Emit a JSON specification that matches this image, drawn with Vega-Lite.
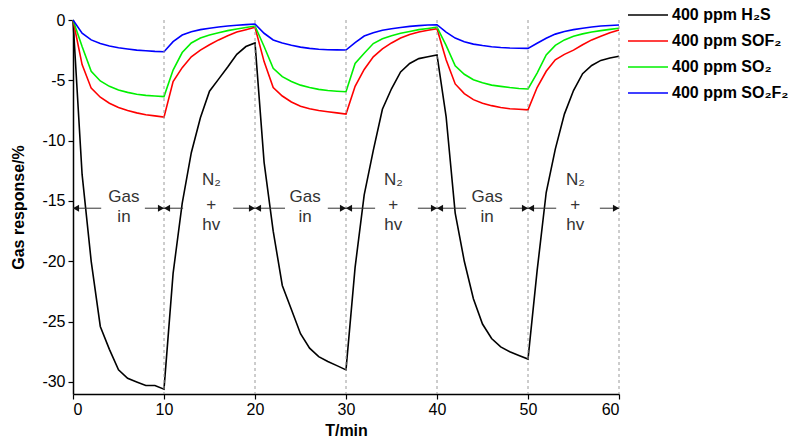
{
  "$schema": "https://vega.github.io/schema/vega-lite/v6.json",
  "width": 546,
  "height": 374,
  "autosize": {"type": "none"},
  "padding": {"left": 73, "top": 20, "right": 173, "bottom": 48},
  "background": "white",
  "config": {
    "view": {"stroke": null},
    "font": "Liberation Sans",
    "axis": {
      "domainColor": "black",
      "domainWidth": 1.5,
      "tickColor": "black",
      "tickWidth": 1.2,
      "tickSize": 5,
      "labelColor": "black",
      "labelFont": "Liberation Sans",
      "labelFontSize": 16,
      "titleColor": "black",
      "titleFont": "Liberation Sans",
      "titleFontSize": 16,
      "titleFontWeight": "bold",
      "grid": false
    }
  },
  "datasets": {
    "curves": [
      {"gas": "400 ppm H₂S", "t": 0, "v": 0}, {"gas": "400 ppm H₂S", "t": 1, "v": -12.8}, {"gas": "400 ppm H₂S", "t": 2, "v": -20.0}, {"gas": "400 ppm H₂S", "t": 3, "v": -25.4}, {"gas": "400 ppm H₂S", "t": 4, "v": -27.3}, {"gas": "400 ppm H₂S", "t": 5, "v": -29.0}, {"gas": "400 ppm H₂S", "t": 6, "v": -29.7}, {"gas": "400 ppm H₂S", "t": 7, "v": -30.0}, {"gas": "400 ppm H₂S", "t": 8, "v": -30.3}, {"gas": "400 ppm H₂S", "t": 9, "v": -30.3}, {"gas": "400 ppm H₂S", "t": 10, "v": -30.6},
      {"gas": "400 ppm H₂S", "t": 11, "v": -21.0}, {"gas": "400 ppm H₂S", "t": 12, "v": -15.2}, {"gas": "400 ppm H₂S", "t": 13, "v": -11.0}, {"gas": "400 ppm H₂S", "t": 14, "v": -8.1}, {"gas": "400 ppm H₂S", "t": 15, "v": -5.9}, {"gas": "400 ppm H₂S", "t": 16, "v": -4.9}, {"gas": "400 ppm H₂S", "t": 17, "v": -3.9}, {"gas": "400 ppm H₂S", "t": 18, "v": -2.85}, {"gas": "400 ppm H₂S", "t": 19, "v": -2.2}, {"gas": "400 ppm H₂S", "t": 20, "v": -1.9},
      {"gas": "400 ppm H₂S", "t": 21, "v": -11.8}, {"gas": "400 ppm H₂S", "t": 22, "v": -17.5}, {"gas": "400 ppm H₂S", "t": 23, "v": -22.0}, {"gas": "400 ppm H₂S", "t": 24, "v": -24.0}, {"gas": "400 ppm H₂S", "t": 25, "v": -26.0}, {"gas": "400 ppm H₂S", "t": 26, "v": -27.2}, {"gas": "400 ppm H₂S", "t": 27, "v": -27.9}, {"gas": "400 ppm H₂S", "t": 28, "v": -28.3}, {"gas": "400 ppm H₂S", "t": 29, "v": -28.65}, {"gas": "400 ppm H₂S", "t": 30, "v": -29.0},
      {"gas": "400 ppm H₂S", "t": 31, "v": -20.5}, {"gas": "400 ppm H₂S", "t": 32, "v": -14.5}, {"gas": "400 ppm H₂S", "t": 33, "v": -10.8}, {"gas": "400 ppm H₂S", "t": 34, "v": -7.4}, {"gas": "400 ppm H₂S", "t": 35, "v": -5.7}, {"gas": "400 ppm H₂S", "t": 36, "v": -4.3}, {"gas": "400 ppm H₂S", "t": 37, "v": -3.6}, {"gas": "400 ppm H₂S", "t": 38, "v": -3.2}, {"gas": "400 ppm H₂S", "t": 39, "v": -3.05}, {"gas": "400 ppm H₂S", "t": 40, "v": -2.9},
      {"gas": "400 ppm H₂S", "t": 41, "v": -8.0}, {"gas": "400 ppm H₂S", "t": 42, "v": -16.0}, {"gas": "400 ppm H₂S", "t": 43, "v": -20.0}, {"gas": "400 ppm H₂S", "t": 44, "v": -23.1}, {"gas": "400 ppm H₂S", "t": 45, "v": -25.2}, {"gas": "400 ppm H₂S", "t": 46, "v": -26.4}, {"gas": "400 ppm H₂S", "t": 47, "v": -27.1}, {"gas": "400 ppm H₂S", "t": 48, "v": -27.5}, {"gas": "400 ppm H₂S", "t": 49, "v": -27.8}, {"gas": "400 ppm H₂S", "t": 50, "v": -28.1},
      {"gas": "400 ppm H₂S", "t": 51, "v": -20.8}, {"gas": "400 ppm H₂S", "t": 52, "v": -14.3}, {"gas": "400 ppm H₂S", "t": 53, "v": -10.7}, {"gas": "400 ppm H₂S", "t": 54, "v": -7.8}, {"gas": "400 ppm H₂S", "t": 55, "v": -5.85}, {"gas": "400 ppm H₂S", "t": 56, "v": -4.45}, {"gas": "400 ppm H₂S", "t": 57, "v": -3.77}, {"gas": "400 ppm H₂S", "t": 58, "v": -3.35}, {"gas": "400 ppm H₂S", "t": 59, "v": -3.15}, {"gas": "400 ppm H₂S", "t": 60, "v": -3.0},

      {"gas": "400 ppm SOF₂", "t": 0, "v": 0}, {"gas": "400 ppm SOF₂", "t": 1, "v": -3.7}, {"gas": "400 ppm SOF₂", "t": 2, "v": -5.65}, {"gas": "400 ppm SOF₂", "t": 3, "v": -6.4}, {"gas": "400 ppm SOF₂", "t": 4, "v": -6.9}, {"gas": "400 ppm SOF₂", "t": 5, "v": -7.25}, {"gas": "400 ppm SOF₂", "t": 6, "v": -7.5}, {"gas": "400 ppm SOF₂", "t": 7, "v": -7.7}, {"gas": "400 ppm SOF₂", "t": 8, "v": -7.85}, {"gas": "400 ppm SOF₂", "t": 9, "v": -7.95}, {"gas": "400 ppm SOF₂", "t": 10, "v": -8.05},
      {"gas": "400 ppm SOF₂", "t": 11, "v": -5.1}, {"gas": "400 ppm SOF₂", "t": 12, "v": -3.95}, {"gas": "400 ppm SOF₂", "t": 13, "v": -3.05}, {"gas": "400 ppm SOF₂", "t": 14, "v": -2.5}, {"gas": "400 ppm SOF₂", "t": 15, "v": -2.05}, {"gas": "400 ppm SOF₂", "t": 16, "v": -1.65}, {"gas": "400 ppm SOF₂", "t": 17, "v": -1.3}, {"gas": "400 ppm SOF₂", "t": 18, "v": -1.0}, {"gas": "400 ppm SOF₂", "t": 19, "v": -0.8}, {"gas": "400 ppm SOF₂", "t": 20, "v": -0.6},
      {"gas": "400 ppm SOF₂", "t": 21, "v": -3.45}, {"gas": "400 ppm SOF₂", "t": 22, "v": -5.6}, {"gas": "400 ppm SOF₂", "t": 23, "v": -6.3}, {"gas": "400 ppm SOF₂", "t": 24, "v": -6.8}, {"gas": "400 ppm SOF₂", "t": 25, "v": -7.15}, {"gas": "400 ppm SOF₂", "t": 26, "v": -7.35}, {"gas": "400 ppm SOF₂", "t": 27, "v": -7.5}, {"gas": "400 ppm SOF₂", "t": 28, "v": -7.6}, {"gas": "400 ppm SOF₂", "t": 29, "v": -7.7}, {"gas": "400 ppm SOF₂", "t": 30, "v": -7.8},
      {"gas": "400 ppm SOF₂", "t": 31, "v": -5.5}, {"gas": "400 ppm SOF₂", "t": 32, "v": -4.1}, {"gas": "400 ppm SOF₂", "t": 33, "v": -3.05}, {"gas": "400 ppm SOF₂", "t": 34, "v": -2.4}, {"gas": "400 ppm SOF₂", "t": 35, "v": -1.9}, {"gas": "400 ppm SOF₂", "t": 36, "v": -1.5}, {"gas": "400 ppm SOF₂", "t": 37, "v": -1.2}, {"gas": "400 ppm SOF₂", "t": 38, "v": -1.0}, {"gas": "400 ppm SOF₂", "t": 39, "v": -0.85}, {"gas": "400 ppm SOF₂", "t": 40, "v": -0.72},
      {"gas": "400 ppm SOF₂", "t": 41, "v": -3.3}, {"gas": "400 ppm SOF₂", "t": 42, "v": -5.3}, {"gas": "400 ppm SOF₂", "t": 43, "v": -6.1}, {"gas": "400 ppm SOF₂", "t": 44, "v": -6.6}, {"gas": "400 ppm SOF₂", "t": 45, "v": -6.9}, {"gas": "400 ppm SOF₂", "t": 46, "v": -7.1}, {"gas": "400 ppm SOF₂", "t": 47, "v": -7.25}, {"gas": "400 ppm SOF₂", "t": 48, "v": -7.35}, {"gas": "400 ppm SOF₂", "t": 49, "v": -7.4}, {"gas": "400 ppm SOF₂", "t": 50, "v": -7.45},
      {"gas": "400 ppm SOF₂", "t": 51, "v": -5.6}, {"gas": "400 ppm SOF₂", "t": 52, "v": -4.25}, {"gas": "400 ppm SOF₂", "t": 53, "v": -3.3}, {"gas": "400 ppm SOF₂", "t": 54, "v": -2.85}, {"gas": "400 ppm SOF₂", "t": 55, "v": -2.5}, {"gas": "400 ppm SOF₂", "t": 56, "v": -2.05}, {"gas": "400 ppm SOF₂", "t": 57, "v": -1.65}, {"gas": "400 ppm SOF₂", "t": 58, "v": -1.35}, {"gas": "400 ppm SOF₂", "t": 59, "v": -1.05}, {"gas": "400 ppm SOF₂", "t": 60, "v": -0.83},

      {"gas": "400 ppm SO₂", "t": 0, "v": 0}, {"gas": "400 ppm SO₂", "t": 1, "v": -2.2}, {"gas": "400 ppm SO₂", "t": 2, "v": -4.25}, {"gas": "400 ppm SO₂", "t": 3, "v": -5.05}, {"gas": "400 ppm SO₂", "t": 4, "v": -5.5}, {"gas": "400 ppm SO₂", "t": 5, "v": -5.8}, {"gas": "400 ppm SO₂", "t": 6, "v": -6.0}, {"gas": "400 ppm SO₂", "t": 7, "v": -6.15}, {"gas": "400 ppm SO₂", "t": 8, "v": -6.25}, {"gas": "400 ppm SO₂", "t": 9, "v": -6.3}, {"gas": "400 ppm SO₂", "t": 10, "v": -6.35},
      {"gas": "400 ppm SO₂", "t": 11, "v": -4.15}, {"gas": "400 ppm SO₂", "t": 12, "v": -2.7}, {"gas": "400 ppm SO₂", "t": 13, "v": -1.9}, {"gas": "400 ppm SO₂", "t": 14, "v": -1.5}, {"gas": "400 ppm SO₂", "t": 15, "v": -1.25}, {"gas": "400 ppm SO₂", "t": 16, "v": -1.05}, {"gas": "400 ppm SO₂", "t": 17, "v": -0.88}, {"gas": "400 ppm SO₂", "t": 18, "v": -0.74}, {"gas": "400 ppm SO₂", "t": 19, "v": -0.62}, {"gas": "400 ppm SO₂", "t": 20, "v": -0.5},
      {"gas": "400 ppm SO₂", "t": 21, "v": -2.2}, {"gas": "400 ppm SO₂", "t": 22, "v": -4.0}, {"gas": "400 ppm SO₂", "t": 23, "v": -4.7}, {"gas": "400 ppm SO₂", "t": 24, "v": -5.1}, {"gas": "400 ppm SO₂", "t": 25, "v": -5.4}, {"gas": "400 ppm SO₂", "t": 26, "v": -5.6}, {"gas": "400 ppm SO₂", "t": 27, "v": -5.75}, {"gas": "400 ppm SO₂", "t": 28, "v": -5.85}, {"gas": "400 ppm SO₂", "t": 29, "v": -5.9}, {"gas": "400 ppm SO₂", "t": 30, "v": -5.95},
      {"gas": "400 ppm SO₂", "t": 31, "v": -3.6}, {"gas": "400 ppm SO₂", "t": 32, "v": -2.75}, {"gas": "400 ppm SO₂", "t": 33, "v": -1.95}, {"gas": "400 ppm SO₂", "t": 34, "v": -1.55}, {"gas": "400 ppm SO₂", "t": 35, "v": -1.3}, {"gas": "400 ppm SO₂", "t": 36, "v": -1.1}, {"gas": "400 ppm SO₂", "t": 37, "v": -0.95}, {"gas": "400 ppm SO₂", "t": 38, "v": -0.8}, {"gas": "400 ppm SO₂", "t": 39, "v": -0.7}, {"gas": "400 ppm SO₂", "t": 40, "v": -0.6},
      {"gas": "400 ppm SO₂", "t": 41, "v": -2.1}, {"gas": "400 ppm SO₂", "t": 42, "v": -3.8}, {"gas": "400 ppm SO₂", "t": 43, "v": -4.5}, {"gas": "400 ppm SO₂", "t": 44, "v": -4.95}, {"gas": "400 ppm SO₂", "t": 45, "v": -5.2}, {"gas": "400 ppm SO₂", "t": 46, "v": -5.4}, {"gas": "400 ppm SO₂", "t": 47, "v": -5.5}, {"gas": "400 ppm SO₂", "t": 48, "v": -5.6}, {"gas": "400 ppm SO₂", "t": 49, "v": -5.68}, {"gas": "400 ppm SO₂", "t": 50, "v": -5.72},
      {"gas": "400 ppm SO₂", "t": 51, "v": -4.4}, {"gas": "400 ppm SO₂", "t": 52, "v": -2.9}, {"gas": "400 ppm SO₂", "t": 53, "v": -2.1}, {"gas": "400 ppm SO₂", "t": 54, "v": -1.65}, {"gas": "400 ppm SO₂", "t": 55, "v": -1.35}, {"gas": "400 ppm SO₂", "t": 56, "v": -1.15}, {"gas": "400 ppm SO₂", "t": 57, "v": -1.0}, {"gas": "400 ppm SO₂", "t": 58, "v": -0.88}, {"gas": "400 ppm SO₂", "t": 59, "v": -0.78}, {"gas": "400 ppm SO₂", "t": 60, "v": -0.69},

      {"gas": "400 ppm SO₂F₂", "t": 0, "v": 0}, {"gas": "400 ppm SO₂F₂", "t": 1, "v": -1.1}, {"gas": "400 ppm SO₂F₂", "t": 2, "v": -1.65}, {"gas": "400 ppm SO₂F₂", "t": 3, "v": -1.95}, {"gas": "400 ppm SO₂F₂", "t": 4, "v": -2.15}, {"gas": "400 ppm SO₂F₂", "t": 5, "v": -2.3}, {"gas": "400 ppm SO₂F₂", "t": 6, "v": -2.4}, {"gas": "400 ppm SO₂F₂", "t": 7, "v": -2.5}, {"gas": "400 ppm SO₂F₂", "t": 8, "v": -2.55}, {"gas": "400 ppm SO₂F₂", "t": 9, "v": -2.6}, {"gas": "400 ppm SO₂F₂", "t": 10, "v": -2.63},
      {"gas": "400 ppm SO₂F₂", "t": 11, "v": -1.8}, {"gas": "400 ppm SO₂F₂", "t": 12, "v": -1.25}, {"gas": "400 ppm SO₂F₂", "t": 13, "v": -0.97}, {"gas": "400 ppm SO₂F₂", "t": 14, "v": -0.8}, {"gas": "400 ppm SO₂F₂", "t": 15, "v": -0.68}, {"gas": "400 ppm SO₂F₂", "t": 16, "v": -0.58}, {"gas": "400 ppm SO₂F₂", "t": 17, "v": -0.5}, {"gas": "400 ppm SO₂F₂", "t": 18, "v": -0.43}, {"gas": "400 ppm SO₂F₂", "t": 19, "v": -0.38}, {"gas": "400 ppm SO₂F₂", "t": 20, "v": -0.33},
      {"gas": "400 ppm SO₂F₂", "t": 21, "v": -1.1}, {"gas": "400 ppm SO₂F₂", "t": 22, "v": -1.65}, {"gas": "400 ppm SO₂F₂", "t": 23, "v": -1.9}, {"gas": "400 ppm SO₂F₂", "t": 24, "v": -2.1}, {"gas": "400 ppm SO₂F₂", "t": 25, "v": -2.25}, {"gas": "400 ppm SO₂F₂", "t": 26, "v": -2.35}, {"gas": "400 ppm SO₂F₂", "t": 27, "v": -2.42}, {"gas": "400 ppm SO₂F₂", "t": 28, "v": -2.46}, {"gas": "400 ppm SO₂F₂", "t": 29, "v": -2.48}, {"gas": "400 ppm SO₂F₂", "t": 30, "v": -2.49},
      {"gas": "400 ppm SO₂F₂", "t": 31, "v": -1.88}, {"gas": "400 ppm SO₂F₂", "t": 32, "v": -1.33}, {"gas": "400 ppm SO₂F₂", "t": 33, "v": -1.05}, {"gas": "400 ppm SO₂F₂", "t": 34, "v": -0.85}, {"gas": "400 ppm SO₂F₂", "t": 35, "v": -0.72}, {"gas": "400 ppm SO₂F₂", "t": 36, "v": -0.62}, {"gas": "400 ppm SO₂F₂", "t": 37, "v": -0.53}, {"gas": "400 ppm SO₂F₂", "t": 38, "v": -0.47}, {"gas": "400 ppm SO₂F₂", "t": 39, "v": -0.42}, {"gas": "400 ppm SO₂F₂", "t": 40, "v": -0.39},
      {"gas": "400 ppm SO₂F₂", "t": 41, "v": -1.0}, {"gas": "400 ppm SO₂F₂", "t": 42, "v": -1.5}, {"gas": "400 ppm SO₂F₂", "t": 43, "v": -1.8}, {"gas": "400 ppm SO₂F₂", "t": 44, "v": -2.0}, {"gas": "400 ppm SO₂F₂", "t": 45, "v": -2.12}, {"gas": "400 ppm SO₂F₂", "t": 46, "v": -2.22}, {"gas": "400 ppm SO₂F₂", "t": 47, "v": -2.28}, {"gas": "400 ppm SO₂F₂", "t": 48, "v": -2.32}, {"gas": "400 ppm SO₂F₂", "t": 49, "v": -2.34}, {"gas": "400 ppm SO₂F₂", "t": 50, "v": -2.35},
      {"gas": "400 ppm SO₂F₂", "t": 51, "v": -1.93}, {"gas": "400 ppm SO₂F₂", "t": 52, "v": -1.52}, {"gas": "400 ppm SO₂F₂", "t": 53, "v": -1.17}, {"gas": "400 ppm SO₂F₂", "t": 54, "v": -0.95}, {"gas": "400 ppm SO₂F₂", "t": 55, "v": -0.8}, {"gas": "400 ppm SO₂F₂", "t": 56, "v": -0.68}, {"gas": "400 ppm SO₂F₂", "t": 57, "v": -0.58}, {"gas": "400 ppm SO₂F₂", "t": 58, "v": -0.5}, {"gas": "400 ppm SO₂F₂", "t": 59, "v": -0.45}, {"gas": "400 ppm SO₂F₂", "t": 60, "v": -0.41}
    ],
    "guides": [{"t": 10}, {"t": 20}, {"t": 30}, {"t": 40}, {"t": 50}, {"t": 60}],
    "arrows": [
      {"from": 3.1, "to": 0, "dir": "left", "v": -15.6},
      {"from": 7.9, "to": 10, "dir": "right", "v": -15.6},
      {"from": 12.1, "to": 10, "dir": "left", "v": -15.6},
      {"from": 17.6, "to": 20, "dir": "right", "v": -15.6},
      {"from": 23.3, "to": 20, "dir": "left", "v": -15.6},
      {"from": 28.0, "to": 30, "dir": "right", "v": -15.6},
      {"from": 33.2, "to": 30, "dir": "left", "v": -15.6},
      {"from": 37.9, "to": 40, "dir": "right", "v": -15.6},
      {"from": 43.2, "to": 40, "dir": "left", "v": -15.6},
      {"from": 48.0, "to": 50, "dir": "right", "v": -15.6},
      {"from": 53.1, "to": 50, "dir": "left", "v": -15.6},
      {"from": 57.9, "to": 60, "dir": "right", "v": -15.6}
    ],
    "notes": [
      {"t": 5.6, "v": -14.65, "label": "Gas"}, {"t": 5.6, "v": -16.3, "label": "in"},
      {"t": 15.2, "v": -13.3, "label": "N₂"}, {"t": 15.2, "v": -15.35, "label": "+"}, {"t": 15.2, "v": -17.0, "label": "hv"},
      {"t": 25.5, "v": -14.65, "label": "Gas"}, {"t": 25.5, "v": -16.3, "label": "in"},
      {"t": 35.2, "v": -13.3, "label": "N₂"}, {"t": 35.2, "v": -15.35, "label": "+"}, {"t": 35.2, "v": -17.0, "label": "hv"},
      {"t": 45.5, "v": -14.65, "label": "Gas"}, {"t": 45.5, "v": -16.3, "label": "in"},
      {"t": 55.2, "v": -13.3, "label": "N₂"}, {"t": 55.2, "v": -15.35, "label": "+"}, {"t": 55.2, "v": -17.0, "label": "hv"}
    ]
  },
  "layer": [
    {
      "data": {"name": "curves"},
      "mark": {"type": "line", "strokeWidth": 1.6},
      "encoding": {
        "x": {
          "field": "t", "type": "quantitative",
          "scale": {"domain": [0, 60], "nice": false},
          "axis": {"values": [0, 10, 20, 30, 40, 50, 60], "title": "T/min", "labelPadding": 2, "titlePadding": 5}
        },
        "y": {
          "field": "v", "type": "quantitative",
          "scale": {"domain": [-31, 0], "nice": false, "zero": false},
          "axis": {
            "values": [0, -2.5, -5, -7.5, -10, -12.5, -15, -17.5, -20, -22.5, -25, -27.5, -30],
            "labelExpr": "datum.value % 5 === 0 ? toString(datum.value) : ''",
            "title": "Gas response/%",
            "titleX": -55,
            "titleY": 187,
            "titleAngle": 270,
            "titleAlign": "center",
            "titleBaseline": "middle",
            "labelPadding": 3
          }
        },
        "color": {
          "field": "gas", "type": "nominal",
          "scale": {
            "domain": ["400 ppm H₂S", "400 ppm SOF₂", "400 ppm SO₂", "400 ppm SO₂F₂"],
            "range": ["#000000", "#ff0000", "#00f000", "#0000ff"]
          },
          "legend": {
            "title": null,
            "orient": "none",
            "legendX": 564,
            "legendY": -16,
            "symbolType": "M-2,0H2",
            "symbolSize": 400,
            "symbolStrokeWidth": 1.6,
            "labelFont": "Liberation Sans",
            "labelFontWeight": "bold",
            "labelFontSize": 16,
            "labelColor": "black",
            "labelOffset": 13,
            "rowPadding": 7
          }
        }
      }
    },
    {
      "data": {"name": "guides"},
      "mark": {"type": "rule", "color": "#9a9a9a", "strokeDash": [3, 3], "strokeWidth": 1},
      "encoding": {
        "x": {"field": "t", "type": "quantitative"}
      }
    },
    {
      "data": {"name": "arrows"},
      "mark": {"type": "rule", "color": "#333333", "strokeWidth": 1},
      "encoding": {
        "x": {"field": "from", "type": "quantitative"},
        "x2": {"field": "to"},
        "y": {"field": "v", "type": "quantitative"}
      }
    },
    {
      "data": {"name": "arrows"},
      "transform": [{"filter": "datum.dir === 'left'"}],
      "mark": {"type": "point", "shape": "triangle-left", "filled": true, "color": "#111111", "size": 50, "xOffset": 3, "opacity": 1},
      "encoding": {
        "x": {"field": "to", "type": "quantitative"},
        "y": {"field": "v", "type": "quantitative"}
      }
    },
    {
      "data": {"name": "arrows"},
      "transform": [{"filter": "datum.dir === 'right'"}],
      "mark": {"type": "point", "shape": "triangle-right", "filled": true, "color": "#111111", "size": 50, "xOffset": -3, "opacity": 1},
      "encoding": {
        "x": {"field": "to", "type": "quantitative"},
        "y": {"field": "v", "type": "quantitative"}
      }
    },
    {
      "data": {"name": "notes"},
      "mark": {"type": "text", "font": "Liberation Sans", "fontSize": 17, "color": "#333333", "align": "center", "baseline": "middle"},
      "encoding": {
        "x": {"field": "t", "type": "quantitative"},
        "y": {"field": "v", "type": "quantitative"},
        "text": {"field": "label"}
      }
    }
  ]
}
